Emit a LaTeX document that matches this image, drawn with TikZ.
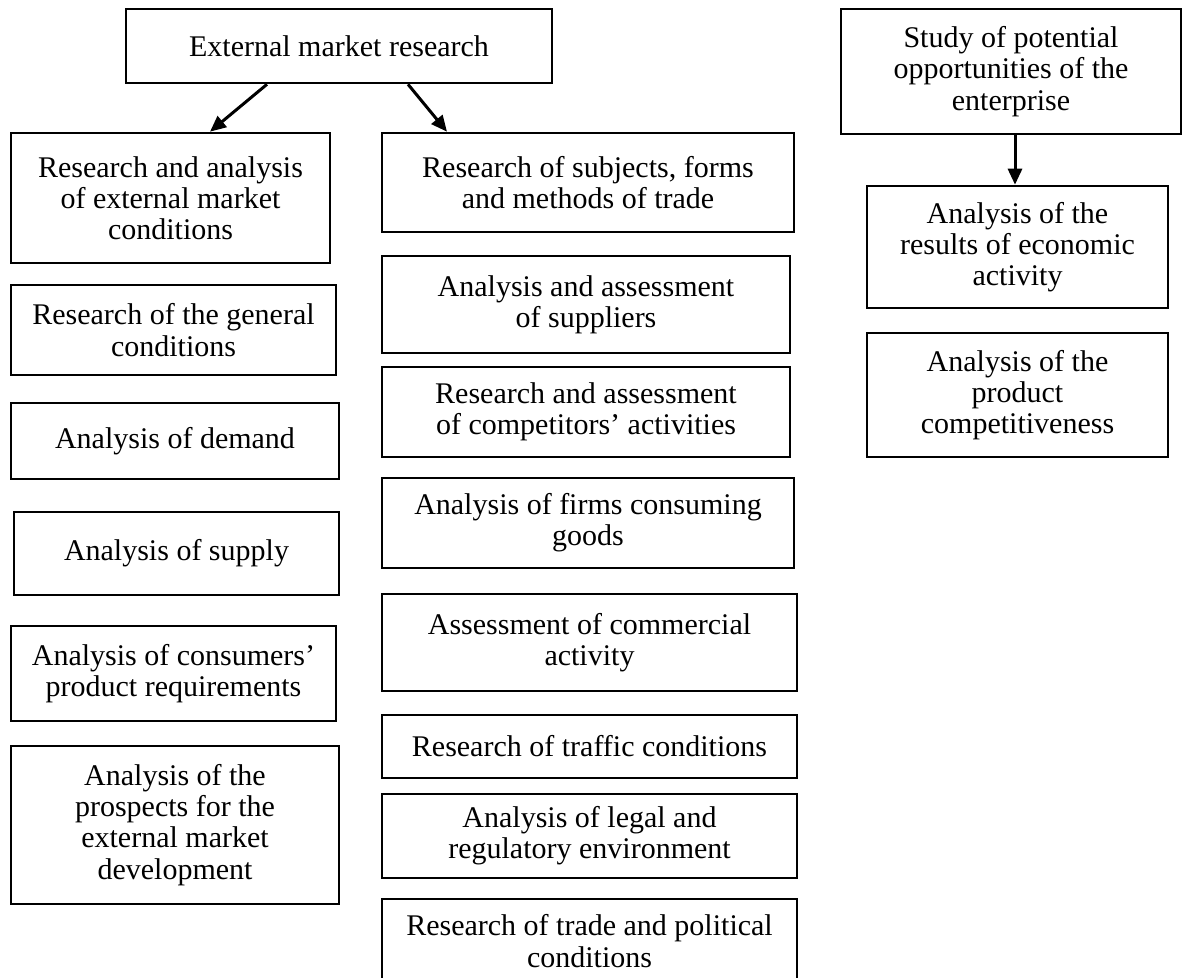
\documentclass[tikz,border=0pt]{standalone}
\usepackage{fontspec}
\setmainfont{Liberation Serif}
\usetikzlibrary{arrows.meta}

% box given by its corners (x1,y1)-(x2,y2) in picture units
\newcommand\boxat[6]{%
  \node[cell, minimum width={(#4-#2)*0.5pt}, minimum height={(#5-#3)*0.5pt}]
    (#1) at ({(#2+#4)/2},{(#3+#5)/2}) {#6};}

\begin{document}
\begin{tikzpicture}[x=0.5pt,y=-0.5pt,
  cell/.style={draw=black, line width=1.3pt, rectangle, inner sep=0pt,
    align=center, font=\fontsize{15}{15.6}\selectfont},
  arr/.style={line width=1.5pt, -{Triangle[length=8pt,width=7pt]}}]
\fill[white] (0,0) rectangle (1184,978);
\useasboundingbox (0,0) rectangle (1184,978);

% left branch
\boxat{top}{126}{9}{552}{83}{External market research}
\boxat{L1}{11}{133}{330}{263}{Research and analysis\\of external market\\conditions}
\boxat{L2}{11}{285}{336}{375}{Research of the general\\conditions}
\boxat{L3}{11}{403}{339}{479}{Analysis of demand}
\boxat{L4}{14}{512}{339}{595}{Analysis of supply}
\boxat{L5}{11}{626}{336}{721}{Analysis of consumers’\\product requirements}
\boxat{L6}{11}{746}{339}{904}{Analysis of the\\prospects for the\\external market\\development}

% middle column
\boxat{M1}{382}{133}{794}{232}{Research of subjects, forms\\and methods of trade}
\boxat{M2}{382}{256}{790}{353}{Analysis and assessment\\of suppliers}
\boxat{M3}{382}{367}{790}{457}{Research and assessment\\of competitors’ activities}
\boxat{M4}{382}{478}{794}{568}{Analysis of firms consuming\\goods}
\boxat{M5}{382}{594}{797}{691}{Assessment of commercial\\activity}
\boxat{M6}{382}{715}{797}{778}{Research of traffic conditions}
\boxat{M7}{382}{794}{797}{878}{Analysis of legal and\\regulatory environment}
\boxat{M8}{382}{899}{797}{983}{Research of trade and political\\conditions}

% right column
\boxat{R1}{841}{9}{1181}{134}{Study of potential\\opportunities of the\\enterprise}
\boxat{R2}{867}{186}{1168}{308}{Analysis of the\\results of economic\\activity}
\boxat{R3}{867}{333}{1168}{457}{Analysis of the\\product\\competitiveness}

% connectors
\draw[arr] ([xshift=-36pt]top.south) -- ([xshift=19.75pt]L1.north);
\draw[arr] ([xshift=34.5pt]top.south) -- ([xshift=-70.5pt]M1.north);
\draw[arr] ([xshift=2pt]R1.south) -- ([xshift=2pt]R1.south |- R2.north);
\end{tikzpicture}
\end{document}
